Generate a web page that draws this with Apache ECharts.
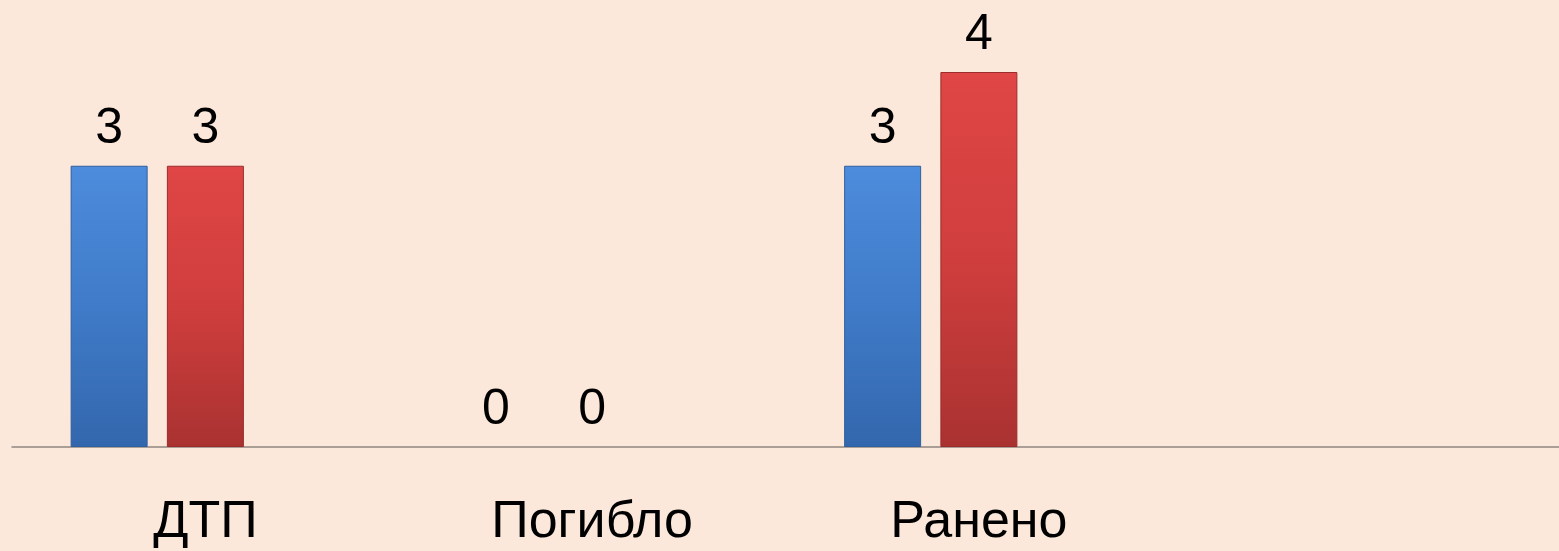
<!DOCTYPE html>
<html>
<head>
<meta charset="utf-8">
<script src="https://cdn.jsdelivr.net/npm/echarts@6/dist/echarts.min.js"></script>
<style>
html,body{margin:0;padding:0;background:#fce8da;}
#chart{width:1559px;height:551px;}
</style>
</head>
<body>
<div id="chart"></div>
<script>
const categories = ['ДТП', 'Погибло', 'Ранено', ''];
const seriesBlue = [3, 0, 3, null];
const seriesRed = [3, 0, 4, null];
const seriesEmpty = [null, null, null, null];

const chart = echarts.init(document.getElementById('chart'));

function grad(top, mid, bottom) {
  return new echarts.graphic.LinearGradient(0, 0, 0, 1, [
    { offset: 0, color: top },
    { offset: 0.5, color: mid },
    { offset: 1, color: bottom }
  ]);
}

function toItems(arr) {
  return arr.map(v => (v === 0 ? { value: v, itemStyle: { borderWidth: 0, borderColor: 'transparent', color: 'transparent' } } : v));
}

const labelStyle = {
  show: true,
  position: 'top',
  distance: 12,
  fontFamily: 'Liberation Sans, Arial, sans-serif',
  fontSize: 50,
  color: '#000'
};

chart.setOption({
  backgroundColor: '#fce8da',
  animation: false,
  grid: { left: 12, right: 0, top: 72, bottom: 104, containLabel: false },
  xAxis: {
    type: 'category',
    data: categories,
    axisLine: { show: true, lineStyle: { color: '#8f8580', width: 1.5 } },
    axisTick: { show: false },
    axisLabel: {
      margin: 50,
      fontFamily: 'Liberation Sans, Arial, sans-serif',
      fontSize: 52,
      color: '#000'
    },
    splitLine: { show: false }
  },
  yAxis: {
    type: 'value',
    min: 0,
    max: 4,
    show: false,
    splitLine: { show: false }
  },
  series: [
    {
      type: 'bar',
      data: toItems(seriesBlue),
      barWidth: 77,
      barGap: '25%',
      itemStyle: {
        color: grad('#4d8cdc', '#3f7bc8', '#3367ad'),
        borderColor: '#2f5f9e',
        borderWidth: 1
      },
      label: labelStyle
    },
    {
      type: 'bar',
      data: toItems(seriesRed),
      barWidth: 77,
      barGap: '25%',
      itemStyle: {
        color: grad('#df4645', '#cf3e3d', '#a93231'),
        borderColor: '#9a2c2b',
        borderWidth: 1
      },
      label: labelStyle
    },
    {
      type: 'bar',
      data: seriesEmpty,
      barWidth: 77,
      barGap: '25%',
      itemStyle: { color: 'transparent' },
      label: { show: false }
    }
  ]
});
</script>
</body>
</html>
